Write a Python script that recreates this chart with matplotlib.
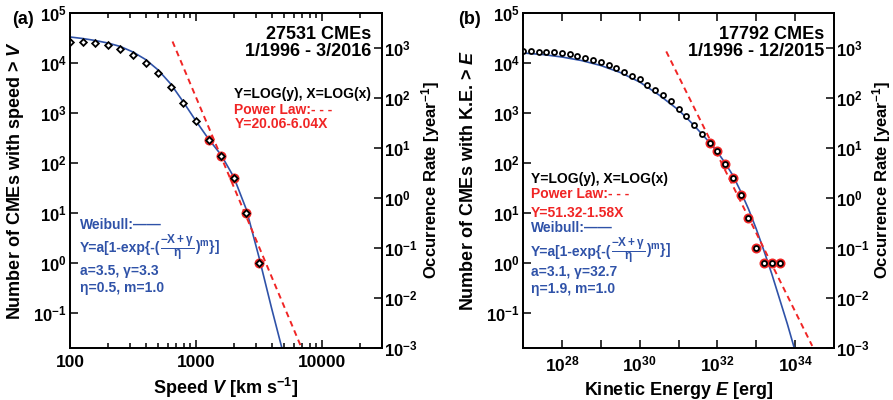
import numpy as np
import matplotlib
matplotlib.use('Agg')
import matplotlib.pyplot as plt
from matplotlib.ticker import FixedLocator, FixedFormatter, NullLocator, LogLocator, NullFormatter
from matplotlib.offsetbox import TextArea, HPacker, AnnotationBbox

plt.rcParams['font.family'] = ['Liberation Sans', 'DejaVu Sans']
plt.rcParams['font.weight'] = 'bold'
plt.rcParams['mathtext.fontset'] = 'custom'
plt.rcParams['mathtext.rm'] = 'Liberation Sans:bold'
plt.rcParams['mathtext.it'] = 'Liberation Sans:italic:bold'
plt.rcParams['mathtext.bf'] = 'Liberation Sans:bold'
plt.rcParams['mathtext.sf'] = 'Liberation Sans:bold'
plt.rcParams['axes.linewidth'] = 1.3

BLUE = '#2f52a8'
RED = '#f02525'

# ---- panel (a): speed distribution ----
speed = [100, 126, 158, 200, 251, 316, 398, 501, 631, 794, 1000, 1259, 1585, 1995, 2512, 3162]
speed_count = [26900, 26200, 25000, 22400, 19000, 14600, 10000, 6300, 3300, 1570, 680,
               290, 135, 49, 10, 1]
speed_fit_start = 11          # first point used in the power-law fit (red circles)
speed_years = 20.25

# Weibull curve (log10 speed, log10 count)
speed_weib_x = [2.0, 2.1, 2.2, 2.3, 2.4, 2.5, 2.6, 2.7, 2.8, 2.9, 3.0, 3.1, 3.2, 3.3, 3.4, 3.5, 3.6, 3.68]
speed_weib_y = [4.52, 4.49, 4.45, 4.40, 4.33, 4.22, 4.07, 3.86, 3.58, 3.22, 2.84, 2.48, 2.16,
                1.72, 1.07, 0.12, -0.90, -1.68]
# power-law dashed line end points (log10 speed, log10 count)
speed_pl_x = [2.814, 3.832]
speed_pl_y = [4.43, -1.66]

# ---- panel (b): kinetic energy distribution ----
energy_exp = [27.0, 27.2, 27.4, 27.6, 27.8, 28.0, 28.2, 28.4, 28.6, 28.8, 29.0, 29.2, 29.4,
              29.6, 29.8, 30.0, 30.2, 30.4, 30.6, 30.8, 31.0, 31.2, 31.4, 31.6, 31.8, 32.0,
              32.2, 32.4, 32.6, 32.8, 33.0, 33.2, 33.4, 33.6]
energy_count = [17000, 17000, 16800, 16500, 16300, 15500, 14900, 14000, 12700, 11600, 10400,
                9100, 7800, 6700, 5600, 4700, 3650, 2940, 2240, 1730, 1220, 855, 575, 387,
                256, 170, 97, 50, 23, 8, 2, 1, 1, 1]
energy_fit_start = 24
energy_years = 20.0

energy_weib_x = [27.0, 27.5, 28.0, 28.5, 29.0, 29.5, 30.0, 30.5, 31.0, 31.2, 31.4, 31.6, 31.8,
                 32.0, 32.2, 32.4, 32.6, 32.8, 33.0, 33.2, 33.4, 33.6, 33.8, 33.97]
energy_weib_y = [4.20, 4.17, 4.12, 4.05, 3.95, 3.81, 3.62, 3.36, 3.06, 2.91, 2.75, 2.58, 2.41,
                 2.22, 2.00, 1.75, 1.43, 1.08, 0.68, 0.24, -0.22, -0.72, -1.22, -1.68]
energy_pl_x = [30.685, 34.44]
energy_pl_y = [4.231, -1.66]

count_ticks = [1e-1, 1, 1e1, 1e2, 1e3, 1e4, 1e5]
count_labels = [r'$10^{-1}$', r'$10^{0}$', r'$10^{1}$', r'$10^{2}$', r'$10^{3}$', r'$10^{4}$', r'$10^{5}$']
rate_ticks = [1e-3, 1e-2, 1e-1, 1, 1e1, 1e2, 1e3]
rate_labels = [r'$10^{-3}$', r'$10^{-2}$', r'$10^{-1}$', r'$10^{0}$', r'$10^{1}$', r'$10^{2}$', r'$10^{3}$']
ylo, yhi = 0.0199, 1e5

fig = plt.figure(figsize=(8.93, 4.0), dpi=100)
ax_a = fig.add_axes([70 / 893, 52 / 400, 312 / 893, 335 / 400])
ax_b = fig.add_axes([523 / 893, 52 / 400, 311 / 893, 335 / 400])


def draw_panel(ax, x, y, fit_start, wx, wy, px, py, marker, years):
    ax.set_xscale('log')
    ax.set_yscale('log')
    ax.plot(10 ** np.array(wx), 10 ** np.array(wy), color=BLUE, lw=1.2, zorder=2)
    ax.plot(10 ** np.array(px), 10 ** np.array(py), color=RED, lw=1.4,
            linestyle=(0, (3, 2.2)), zorder=2)
    ax.plot(x[fit_start:], y[fit_start:], 'o', ms=5.6, mfc='none', mec=RED, mew=1.6, zorder=3)
    ax.plot(x, y, marker, ms=3.4 if marker == 'D' else 3.6, mfc='white', mec='black',
            mew=1.3, ls='none', zorder=4)
    ax.set_ylim(ylo, yhi)
    ax.yaxis.set_major_locator(FixedLocator(count_ticks))
    ax.yaxis.set_major_formatter(FixedFormatter(count_labels))
    ax.yaxis.set_minor_locator(NullLocator())
    ax.tick_params(axis='both', which='both', direction='in', labelsize=12.5, width=1.1)
    ax.tick_params(axis='y', which='major', length=6, pad=2.5, labelsize=12)
    ax.tick_params(axis='x', which='both', top=True)
    ax.tick_params(axis='x', which='major', length=6, pad=5)
    ax.tick_params(axis='x', which='minor', length=3.5)

    ax2 = ax.twinx()
    ax2.set_yscale('log')
    ax2.set_ylim(ylo / years, yhi / years)
    ax2.yaxis.set_major_locator(FixedLocator(rate_ticks))
    ax2.yaxis.set_major_formatter(FixedFormatter(rate_labels))
    ax2.yaxis.set_minor_locator(NullLocator())
    ax2.tick_params(axis='y', direction='in', labelsize=12, length=6, width=1.1, pad=1.5)
    ax2.set_ylabel(r'Occurrence Rate [year$^{-1}$]', fontsize=12, fontweight='bold')
    return ax2


def weibull_formula(ax, x, y):
    props = dict(color=BLUE, fontsize=10, fontweight='bold')
    parts = [TextArea('Y=a[1-exp{-(', textprops=props),
             TextArea(r'$\dfrac{\mathrm{-X+\gamma}}{\mathrm{\eta}}$',
                      textprops=dict(color=BLUE, fontsize=8.5)),
             TextArea(r')$^{\mathrm{m}}$}]', textprops=props)]
    box = HPacker(children=parts, align='baseline', pad=0, sep=0)
    ab = AnnotationBbox(box, (x, y), xycoords='axes fraction', box_alignment=(0, 0.5),
                        frameon=False, pad=0)
    ax.add_artist(ab)


tw_a = draw_panel(ax_a, speed, speed_count, speed_fit_start, speed_weib_x, speed_weib_y,
                  speed_pl_x, speed_pl_y, 'D', speed_years)
ax_a.set_xlim(100, 30000)
ax_a.xaxis.set_major_locator(FixedLocator([100, 1000, 10000]))
ax_a.xaxis.set_major_formatter(FixedFormatter(['100', '1000', '10000']))
ax_a.xaxis.set_minor_locator(LogLocator(base=10, subs=np.arange(2, 10)))
ax_a.xaxis.set_minor_formatter(NullFormatter())
ax_a.set_xlabel(r'Speed $V$ [km s$^{-1}$]', fontsize=13, fontweight='bold')
ax_a.set_ylabel(r'Number of CMEs with speed > $V$', fontsize=13, fontweight='bold')

tw_b = draw_panel(ax_b, 10 ** np.array(energy_exp), energy_count, energy_fit_start, energy_weib_x,
                  energy_weib_y, energy_pl_x, energy_pl_y, 'o', energy_years)
ax_b.set_xlim(1e27, 1e35)
e_ticks = [10.0 ** k for k in range(27, 36)]
e_labels = [r'$10^{%d}$' % k if k % 2 == 0 else '' for k in range(27, 36)]
ax_b.xaxis.set_major_locator(FixedLocator(e_ticks))
ax_b.xaxis.set_major_formatter(FixedFormatter(e_labels))
ax_b.xaxis.set_minor_locator(NullLocator())
ax_b.set_xlabel(r'Kinetic Energy $E$ [erg]', fontsize=13, fontweight='bold')
ax_b.set_ylabel(r'Number of CMEs with K.E. > $E$', fontsize=13, fontweight='bold')

ax_a.yaxis.set_label_coords(-0.141, 0.5)
ax_b.yaxis.set_label_coords(-0.148, 0.5)
tw_a.yaxis.set_label_coords(1.12, 0.5)
tw_b.yaxis.set_label_coords(1.115, 0.5)

fig.text(12 / 893, 1 - 20 / 400, '(a)', fontsize=13, fontweight='bold', va='center')
fig.text(458 / 893, 1 - 20 / 400, '(b)', fontsize=13, fontweight='bold', va='center')

tk = dict(fontsize=10, fontweight='bold', va='baseline')

# panel (a) annotations
ax_a.text(0.964, 0.937, '27531 CMEs', transform=ax_a.transAxes, fontsize=13,
          fontweight='bold', ha='right', va='center')
ax_a.text(0.964, 0.884, '1/1996 - 3/2016', transform=ax_a.transAxes, fontsize=13,
          fontweight='bold', ha='right', va='center')
ax_a.text(0.527, 0.745, 'Y=LOG(y), X=LOG(x)', transform=ax_a.transAxes, color='black', **tk)
ax_a.text(0.527, 0.700, 'Power Law:- - -', transform=ax_a.transAxes, color=RED, **tk)
ax_a.text(0.527, 0.656, 'Y=20.06-6.04X', transform=ax_a.transAxes, color=RED, **tk)
ax_a.text(0.032, 0.356, 'Weibull:\u2014\u2014', transform=ax_a.transAxes, color=BLUE, **tk)
weibull_formula(ax_a, 0.032, 0.302)
ax_a.text(0.032, 0.218, 'a=3.5, \u03b3=3.3', transform=ax_a.transAxes, color=BLUE, **tk)
ax_a.text(0.032, 0.168, '\u03b7=0.5, m=1.0', transform=ax_a.transAxes, color=BLUE, **tk)

# panel (b) annotations
ax_b.text(0.969, 0.937, '17792 CMEs', transform=ax_b.transAxes, fontsize=13,
          fontweight='bold', ha='right', va='center')
ax_b.text(0.969, 0.884, '1/1996 - 12/2015', transform=ax_b.transAxes, fontsize=13,
          fontweight='bold', ha='right', va='center')
ax_b.text(0.026, 0.492, 'Y=LOG(y), X=LOG(x)', transform=ax_b.transAxes, color='black', **tk)
ax_b.text(0.026, 0.447, 'Power Law:- - -', transform=ax_b.transAxes, color=RED, **tk)
ax_b.text(0.026, 0.392, 'Y=51.32-1.58X', transform=ax_b.transAxes, color=RED, **tk)
ax_b.text(0.026, 0.346, 'Weibull:\u2014\u2014', transform=ax_b.transAxes, color=BLUE, **tk)
weibull_formula(ax_b, 0.026, 0.2925)
ax_b.text(0.026, 0.215, 'a=3.1, \u03b3=32.7', transform=ax_b.transAxes, color=BLUE, **tk)
ax_b.text(0.026, 0.163, '\u03b7=1.9, m=1.0', transform=ax_b.transAxes, color=BLUE, **tk)

fig.savefig('out.png', dpi=100)
